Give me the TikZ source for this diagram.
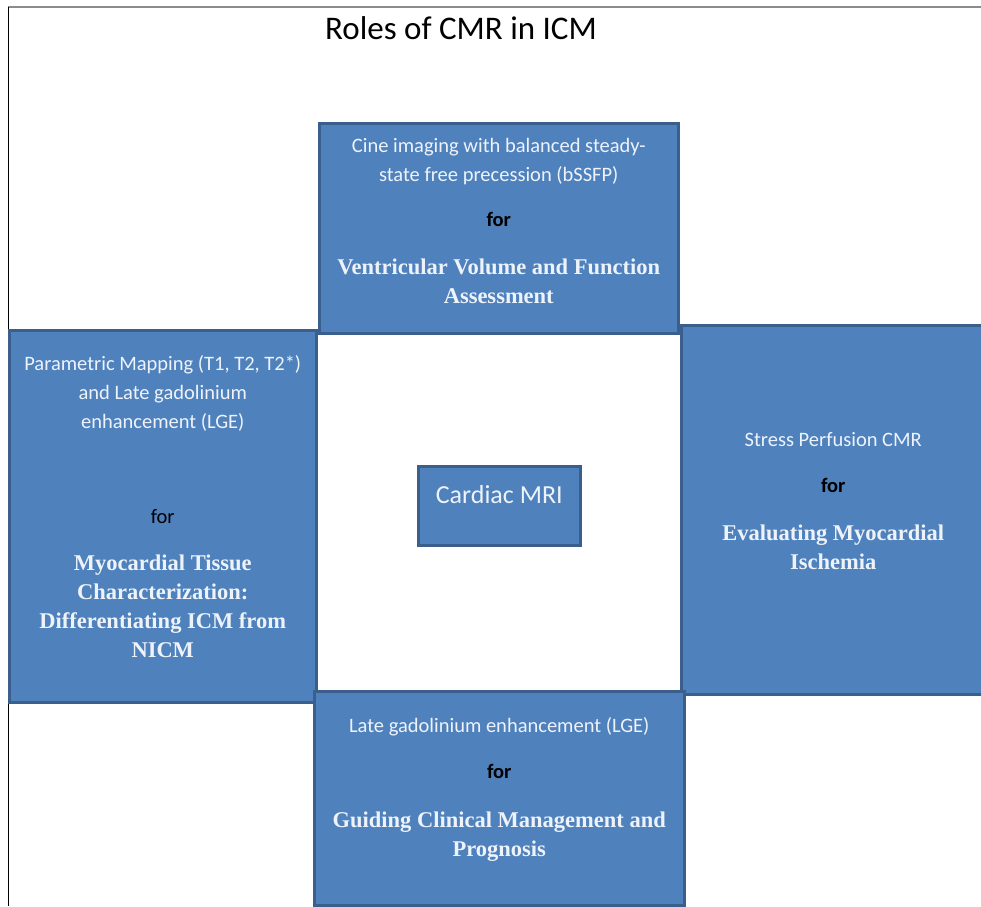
\documentclass[tikz,border=0pt]{standalone}
\usepackage{fontspec}
\setmainfont{Carlito}
\newfontfamily\headfont{Liberation Serif}
\usetikzlibrary{positioning}
\definecolor{cBlue}{HTML}{4F81BD}
\definecolor{cEdge}{HTML}{3A5F8C}
\definecolor{cText}{HTML}{EEF3FA}
\definecolor{cFrame}{HTML}{8C8C8C}

% heading in the boxes, and the black "for"
\newcommand{\boxhead}[1]{{\headfont\bfseries\fontsize{22.5}{29}\selectfont #1}}
\newcommand{\forbold}{{\color{black}\bfseries for}}

\begin{document}
\begin{tikzpicture}[x=1pt, y=-1pt,
    panel/.style={draw=cEdge, fill=cBlue, line width=2.5pt, anchor=north west, inner sep=0pt},
    paneltext/.style={align=center, text=cText, font=\fontsize{20.5}{29}\selectfont, inner sep=0pt}]
    \useasboundingbox (0,0) rectangle (981,906);
    % page frame
    \draw[cFrame, line width=1.8pt] (8,7) -- (981,7);
    \draw[black, line width=0.8pt] (8,7) -- (8,906);
    \node[font=\fontsize{33}{38}\selectfont] (title) at (461,28) {Roles of CMR in ICM};

    % the four boxes round the centre
    \node[panel, minimum width=359pt, minimum height=210pt] (cine) at (318,122) {};
    \node[panel, minimum width=307pt, minimum height=372pt] (mapping) at (8,329) {};
    \node[panel, minimum width=312pt, minimum height=369pt] (stress) at (680,324) {};
    \node[panel, minimum width=370pt, minimum height=214pt] (lge) at (313,690) {};
    \node[panel, minimum width=162pt, minimum height=79pt] (cmr) at (417,465) {};

    \node[paneltext] (cinetxt) at ([yshift=7pt]cine.center)
      {Cine imaging with balanced steady-\\ state free precession (bSSFP)\\[16pt]
       \forbold\\[19pt] \boxhead{Ventricular Volume and Function}\\ \boxhead{Assessment}};
    \node[paneltext] (mappingtxt) at ([yshift=10pt]mapping.center)
      {Parametric Mapping (T1, T2, T2*)\\ and Late gadolinium\\ enhancement (LGE)\\[66pt]
       {\color{black}for}\\[18pt] \boxhead{Myocardial Tissue}\\ \boxhead{Characterization:}\\
       \boxhead{Differentiating ICM from}\\ \boxhead{NICM}};
    \node[paneltext] (stresstxt) at ([xshift=-4pt, yshift=9pt]stress.center)
      {Stress Perfusion CMR\\[17pt] \forbold\\[19pt] \boxhead{Evaluating Myocardial}\\ \boxhead{Ischemia}};
    \node[paneltext] (lgetxt) at ([yshift=9pt]lge.center)
      {Late gadolinium enhancement (LGE)\\[17pt] \forbold\\[20pt]
       \boxhead{Guiding Clinical Management and}\\ \boxhead{Prognosis}};
    \node[paneltext, font=\fontsize{26}{30}\selectfont] (cmrtxt) at ([yshift=11pt]cmr.center) {Cardiac MRI};
\end{tikzpicture}
\end{document}
